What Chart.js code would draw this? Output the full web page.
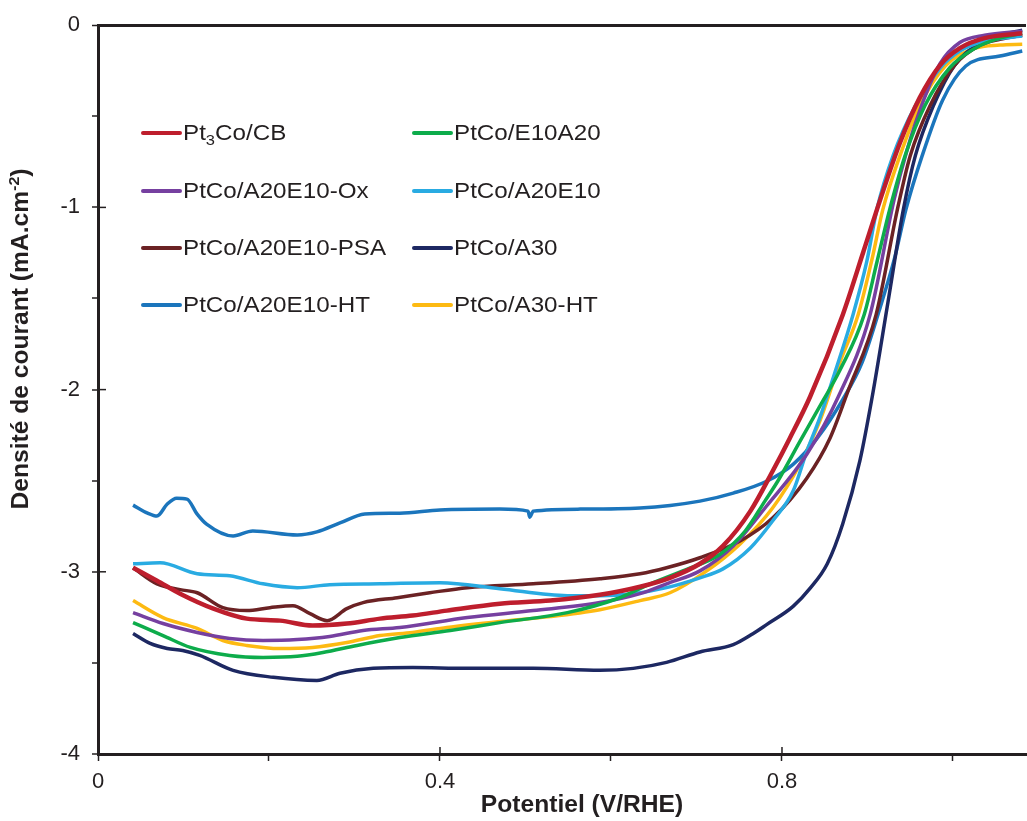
<!DOCTYPE html>
<html><head><meta charset="utf-8">
<script src="https://cdn.jsdelivr.net/npm/chart.js@4.4.0/dist/chart.umd.min.js"></script>
<style>html,body{margin:0;padding:0;background:#fff;overflow:hidden}</style>
</head><body>
<canvas id="c" width="1027" height="821" style="display:block;width:1027px;height:821px"></canvas>
<script>
// ---- data (potential in V/RHE, current density in mA.cm-2) ----
const seriesNames = ['Pt₃Co/CB','PtCo/E10A20','PtCo/A20E10-Ox','PtCo/A20E10','PtCo/A20E10-PSA','PtCo/A30','PtCo/A20E10-HT','PtCo/A30-HT'];
const seriesColors = ['#BE1E2D','#0DAC4B','#7640A0','#29ABE2','#6B2224','#1D2862','#1B75BC','#FDBA12'];

const pt3coCB_V = [0.041,0.069,0.096,0.135,0.174,0.213,0.251,0.291,0.330,0.368,0.408,0.470,0.529,0.587,0.634,0.669,0.704,0.731,0.763,0.789,0.809,0.833,0.871,0.895,0.915,0.938,0.961,0.985,1.008,1.037,1.081];
const pt3coCB_J = [-2.978,-3.049,-3.120,-3.202,-3.257,-3.268,-3.295,-3.284,-3.257,-3.240,-3.213,-3.175,-3.158,-3.126,-3.082,-3.033,-2.956,-2.858,-2.667,-2.448,-2.268,-2.038,-1.590,-1.246,-0.956,-0.645,-0.399,-0.219,-0.126,-0.071,-0.044];

const e10a20_V = [0.041,0.076,0.108,0.154,0.193,0.233,0.263,0.303,0.353,0.412,0.470,0.549,0.607,0.646,0.684,0.728,0.757,0.780,0.795,0.821,0.844,0.868,0.896,0.911,0.926,0.944,0.967,0.996,1.026,1.055,1.081];
const e10a20_J = [-3.279,-3.350,-3.415,-3.459,-3.470,-3.464,-3.443,-3.404,-3.361,-3.322,-3.279,-3.224,-3.148,-3.066,-2.995,-2.902,-2.776,-2.612,-2.503,-2.284,-2.093,-1.891,-1.590,-1.301,-1.011,-0.716,-0.443,-0.235,-0.126,-0.071,-0.044];

const a20e10ox_V = [0.041,0.076,0.116,0.154,0.193,0.233,0.271,0.310,0.353,0.432,0.509,0.587,0.634,0.665,0.704,0.743,0.782,0.829,0.866,0.903,0.931,0.946,0.965,0.985,1.008,1.037,1.081];
const a20e10ox_J = [-3.224,-3.284,-3.333,-3.366,-3.377,-3.372,-3.355,-3.322,-3.306,-3.251,-3.213,-3.169,-3.120,-3.066,-2.995,-2.858,-2.639,-2.355,-2.038,-1.590,-0.960,-0.690,-0.420,-0.210,-0.095,-0.055,-0.033];

const a20e10_V = [0.041,0.0725,0.116,0.154,0.193,0.233,0.271,0.330,0.400,0.470,0.549,0.587,0.626,0.665,0.704,0.731,0.763,0.789,0.813,0.829,0.844,0.863,0.883,0.899,0.911,0.930,0.956,0.985,1.008,1.037,1.081];
const a20e10_J = [-2.956,-2.951,-3.011,-3.022,-3.066,-3.087,-3.071,-3.066,-3.060,-3.093,-3.131,-3.131,-3.120,-3.087,-3.033,-2.984,-2.869,-2.721,-2.557,-2.339,-2.158,-1.890,-1.590,-1.301,-1.011,-0.716,-0.443,-0.235,-0.142,-0.087,-0.060];

const a20e10psa_V = [0.041,0.069,0.096,0.116,0.146,0.174,0.201,0.228,0.248,0.268,0.291,0.310,0.350,0.388,0.432,0.509,0.587,0.634,0.665,0.704,0.751,0.789,0.829,0.856,0.877,0.910,0.935,0.950,0.973,1.002,1.032,1.055,1.081];
const a20e10psa_J = [-2.978,-3.066,-3.098,-3.115,-3.197,-3.213,-3.197,-3.186,-3.230,-3.268,-3.202,-3.169,-3.142,-3.115,-3.087,-3.066,-3.038,-3.011,-2.978,-2.923,-2.831,-2.705,-2.486,-2.268,-2.011,-1.590,-1.011,-0.716,-0.443,-0.219,-0.109,-0.077,-0.055];

const a30_V = [0.041,0.061,0.081,0.099,0.119,0.158,0.205,0.256,0.283,0.322,0.368,0.432,0.509,0.587,0.626,0.665,0.704,0.743,0.766,0.782,0.813,0.833,0.853,0.871,0.891,0.906,0.924,0.942,0.956,0.977,1.002,1.032,1.055,1.081];
const a30_J = [-3.339,-3.393,-3.421,-3.432,-3.459,-3.541,-3.579,-3.596,-3.557,-3.530,-3.525,-3.530,-3.530,-3.541,-3.530,-3.497,-3.440,-3.400,-3.340,-3.290,-3.190,-3.090,-2.956,-2.738,-2.393,-2.027,-1.519,-1.011,-0.716,-0.443,-0.219,-0.098,-0.055,-0.027];

const a20e10ht_V = [0.041,0.058,0.069,0.081,0.092,0.104,0.116,0.127,0.158,0.181,0.233,0.256,0.283,0.312,0.353,0.400,0.470,0.503,0.505,0.509,0.564,0.634,0.704,0.743,0.782,0.813,0.841,0.871,0.894,0.915,0.932,0.945,0.964,0.988,1.015,1.055,1.081];
const a20e10ht_J = [-2.634,-2.678,-2.694,-2.628,-2.596,-2.601,-2.683,-2.738,-2.803,-2.776,-2.798,-2.781,-2.732,-2.683,-2.678,-2.661,-2.656,-2.667,-2.700,-2.667,-2.656,-2.650,-2.612,-2.568,-2.503,-2.410,-2.268,-2.055,-1.847,-1.546,-1.273,-1.011,-0.716,-0.410,-0.224,-0.169,-0.142];

const a30ht_V = [0.041,0.076,0.116,0.146,0.174,0.213,0.251,0.291,0.330,0.368,0.408,0.470,0.529,0.587,0.634,0.669,0.712,0.751,0.789,0.821,0.844,0.868,0.889,0.905,0.918,0.938,0.961,0.991,1.026,1.055,1.081];
const a30ht_J = [-3.158,-3.251,-3.311,-3.377,-3.404,-3.421,-3.415,-3.388,-3.350,-3.333,-3.306,-3.273,-3.246,-3.208,-3.158,-3.115,-2.995,-2.847,-2.650,-2.410,-2.175,-1.847,-1.590,-1.290,-1.011,-0.716,-0.443,-0.224,-0.126,-0.109,-0.105];

const xTickLabels = ['0','0.4','0.8'];
const yTickLabels = ['0','-1','-2','-3','-4'];

const seriesV = [pt3coCB_V,e10a20_V,a20e10ox_V,a20e10_V,a20e10psa_V,a30_V,a20e10ht_V,a30ht_V];
const seriesJ = [pt3coCB_J,e10a20_J,a20e10ox_J,a20e10_J,a20e10psa_J,a30_J,a20e10ht_J,a30ht_J];

const AX = '#231F20';
const FONT = '"Liberation Sans", Arial, Helvetica, sans-serif';

const datasets = seriesNames.map((name,i)=>({
  label: name,
  data: seriesV[i].map((v,k)=>({x:v, y:seriesJ[i][k]})),
  borderColor: seriesColors[i],
  backgroundColor: seriesColors[i],
  borderWidth: i===0 ? 4.5 : 3.5,
  pointRadius: 0,
  cubicInterpolationMode: 'monotone',
  fill: false
}));

// draw a run of text pieces stretched horizontally by sx (the reference text is slightly wide)
function drawRun(ctx, pieces, x, y, sx){
  ctx.save(); ctx.translate(x, y); ctx.scale(sx, 1);
  let tx = 0;
  pieces.forEach(p=>{ ctx.font = p.font; ctx.fillText(p.t, tx, p.dy||0); tx += ctx.measureText(p.t).width; });
  ctx.restore();
}
function runWidth(ctx, pieces){ let w=0; pieces.forEach(p=>{ctx.font=p.font; w+=ctx.measureText(p.t).width;}); return w; }

const decor = {
  id: 'decor',
  afterDraw(chart){
    const ctx = chart.ctx, xs = chart.scales.x, ys = chart.scales.y, a = chart.chartArea;
    ctx.save();
    // inner halves of major ticks (cross ticks)
    ctx.strokeStyle = AX; ctx.lineWidth = 1.5;
    [0.4,0.8].forEach(v=>{const p = xs.getPixelForValue(v); ctx.beginPath(); ctx.moveTo(p,a.bottom); ctx.lineTo(p,a.bottom-7); ctx.stroke();});
    [-1,-2,-3].forEach(v=>{const p = ys.getPixelForValue(v); ctx.beginPath(); ctx.moveTo(a.left,p); ctx.lineTo(a.left+8,p); ctx.stroke();});
    // legend
    const colX = [143, 414], rowY = [133, 191, 248, 305];
    ctx.textBaseline = 'middle'; ctx.textAlign = 'left';
    const F = '22px ' + FONT, FS = '15px ' + FONT;
    chart.data.datasets.forEach((ds,i)=>{
      const cx = colX[i%2], cy = rowY[Math.floor(i/2)];
      ctx.strokeStyle = ds.borderColor; ctx.lineWidth = 4; ctx.lineCap = 'round';
      ctx.beginPath(); ctx.moveTo(cx,cy); ctx.lineTo(cx+37,cy); ctx.stroke();
      ctx.fillStyle = AX;
      const parts = ds.label.split('₃');
      const pieces = [];
      parts.forEach((p,k)=>{ pieces.push({t:p, font:F, dy:1}); if(k<parts.length-1) pieces.push({t:'3', font:FS, dy:8}); });
      drawRun(ctx, pieces, cx+40, cy, 1.1);
    });
    // axis titles
    ctx.fillStyle = AX;
    const B = 'bold 23px ' + FONT, BS = 'bold 15px ' + FONT;
    const xt = [{t:'Potentiel (V/RHE)', font:B}];
    const wx = runWidth(ctx, xt) * 1.07;
    drawRun(ctx, xt, 582 - wx/2, 806, 1.07);
    const yt = [{t:'Densité de courant (mA.cm', font:B},{t:'-2', font:BS, dy:-7},{t:')', font:B}];
    const wy = runWidth(ctx, yt) * 1.07;
    ctx.save(); ctx.translate(22, 339); ctx.rotate(-Math.PI/2);
    drawRun(ctx, yt, -wy/2, 0, 1.07);
    ctx.restore();
    ctx.restore();
  }
};

new Chart(document.getElementById('c'), {
  type: 'line',
  data: { datasets },
  options: {
    responsive: false, devicePixelRatio: 1, animation: false,
    layout: { padding: { top: 22, right: 1, left: 0, bottom: 0 } },
    plugins: { legend: { display: false }, tooltip: { enabled: false } },
    scales: {
      x: {
        type: 'linear', min: 0, max: 1.0854,
        afterFit(s){ s.height = 67; },
        border: { display: true, color: AX, width: 3 },
        grid: { drawOnChartArea: false, drawTicks: true, tickLength: 7, tickColor: AX, tickWidth: 1.5 },
        ticks: {
          stepSize: 0.2, includeBounds: false, autoSkip: false, maxRotation: 0, padding: 8,
          color: AX, font: { family: FONT, size: 22 },
          callback: (v) => { const r = Math.round(v*10); return r % 4 === 0 ? xTickLabels[r/4] : ''; }
        }
      },
      y: {
        type: 'linear', min: -4, max: 0,
        afterFit(s){ s.width = 98; },
        border: { display: true, color: AX, width: 3 },
        grid: {
          drawOnChartArea: true, drawTicks: true, tickLength: 6, tickColor: AX, tickWidth: 1.5,
          color: (c) => (c.tick && c.tick.value === 0) ? AX : 'rgba(0,0,0,0)',
          lineWidth: (c) => (c.tick && c.tick.value === 0) ? 3 : 0
        },
        ticks: {
          stepSize: 0.5, autoSkip: false, padding: 12,
          color: AX, font: { family: FONT, size: 22 },
          callback: (v) => { const r = Math.round(v*2); return r % 2 === 0 ? yTickLabels[-r/2] : ''; }
        }
      }
    }
  },
  plugins: [decor]
});
</script>
</body></html>
